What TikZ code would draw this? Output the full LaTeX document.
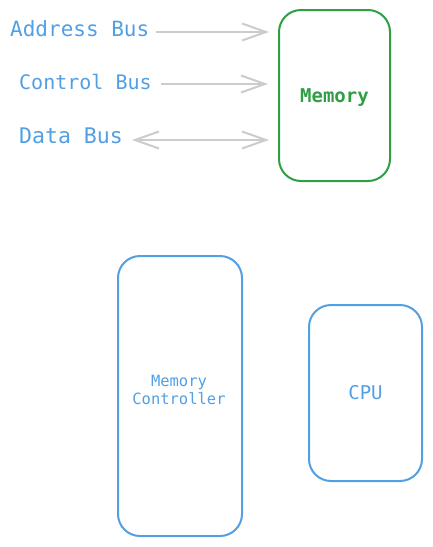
\documentclass[tikz,border=0pt]{standalone}
\usepackage{fontspec}
\setmonofont{DejaVu Sans Mono}
\usetikzlibrary{arrows.meta}
\definecolor{busblue}{HTML}{529FE4}
\definecolor{memgreen}{HTML}{2F9E44}
\definecolor{wiregray}{HTML}{CCCCCC}
\tikzset{
  buslabel/.style={text=busblue, inner sep=0pt, anchor=west, font=\ttfamily\fontsize{21}{25}\selectfont},
  unit/.style={draw, line width=2pt, rounded corners=22pt, inner sep=0pt},
  wire/.style={draw=wiregray, line width=2pt, -{Straight Barb[length=24pt,width=17pt]}}
}
\begin{document}
\begin{tikzpicture}[x=1pt,y=-1pt]
\useasboundingbox (0,0) rectangle (432,547);

\node[unit, draw=memgreen, minimum width=111pt, minimum height=171pt] (mem) at (334.5,95.5) {};
\node[text=memgreen, font=\ttfamily\bfseries\fontsize{19}{22}\selectfont] (memtext) at (334.5,97.5) {Memory};
\node[unit, draw=busblue, minimum width=124pt, minimum height=280pt] (mc) at (180,396) {};
\node[text=busblue, align=center, font=\ttfamily\fontsize{15.5}{18}\selectfont] (mctext) at (179,390) {Memory\\Controller};
\node[unit, draw=busblue, text=busblue, minimum width=113pt, minimum height=176pt,
  font=\ttfamily\fontsize{19}{22}\selectfont] (cpu) at (365.5,393) {CPU};

\node[buslabel] (addr) at (10,29) {Address Bus};
\node[buslabel, font=\ttfamily\fontsize{20}{24}\selectfont] (ctrl) at (19,82) {Control Bus};
\node[buslabel, font=\ttfamily\fontsize{21.5}{26}\selectfont] (data) at (19,136) {Data Bus};

\path[wire, shorten <=7pt, shorten >=9pt] ([yshift=-3pt]addr.east) -- ([yshift=-3pt]addr.east -| mem.west);
\path[wire, shorten <=9pt, shorten >=10pt] ([yshift=-2pt]ctrl.east) -- ([yshift=-2pt]ctrl.east -| mem.west);
\path[wire, {Straight Barb[length=24pt,width=17pt]}-{Straight Barb[length=24pt,width=17pt]},
  shorten <=9pt, shorten >=9pt] ([yshift=-4pt]data.east) -- ([yshift=-4pt]data.east -| mem.west);
\end{tikzpicture}
\end{document}
